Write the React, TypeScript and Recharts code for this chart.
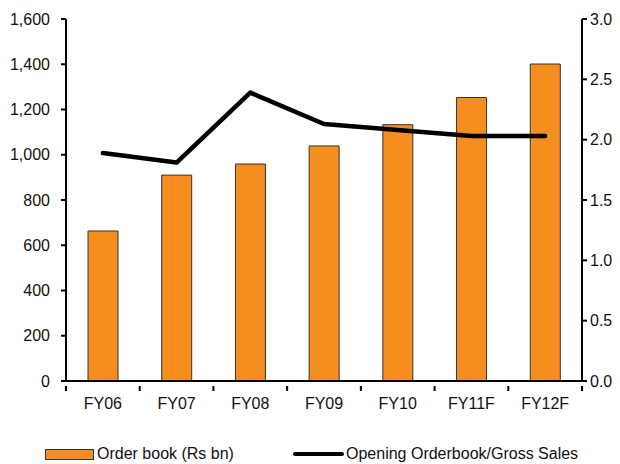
import React from "react"
import { ComposedChart, Bar, Line, XAxis, YAxis, Legend } from "recharts"

const years = ["FY06", "FY07", "FY08", "FY09", "FY10", "FY11F", "FY12F"]
const orderBook = [663, 910, 959, 1039, 1133, 1253, 1401]
const bookToSales = [1.89, 1.81, 2.39, 2.13, 2.08, 2.03, 2.03]
const leftTicks = [0, 200, 400, 600, 800, 1000, 1200, 1400, 1600]
const rightTicks = [0, 0.5, 1.0, 1.5, 2.0, 2.5, 3.0]

const font = "'Liberation Sans', Arial, sans-serif"
const orange = "#F68E1F"

const data = years.map((name, i) => ({
  name,
  orderBook: orderBook[i],
  ratio: bookToSales[i],
}))

// category label in the middle, tick marks on the band edges
function YearTick(props: any) {
  const { x, y, payload, index } = props
  const half = payload.offset ?? 0
  const last = index === years.length - 1
  return (
    <g>
      <line x1={x - half} x2={x - half} y1={y - 12} y2={y - 7} stroke="#000" strokeWidth={2} />
      {last && <line x1={x + half} x2={x + half} y1={y - 12} y2={y - 7} stroke="#000" strokeWidth={2} />}
      <text x={x} y={y} dy="0.71em" textAnchor="middle" fill="#111" fontSize={16} fontFamily={font}>
        {payload.value}
      </text>
    </g>
  )
}

function ChartLegend() {
  return (
    <div style={{ display: "flex", alignItems: "center", fontFamily: font, fontSize: 16, color: "#111" }}>
      <div style={{ display: "flex", alignItems: "center", width: 248 }}>
        <span style={{ display: "inline-block", width: 47, height: 9, background: orange, border: "1px solid #333" }} />
        <span style={{ marginLeft: 3 }}>Order book (Rs bn)</span>
      </div>
      <div style={{ display: "flex", alignItems: "center" }}>
        <span style={{ display: "inline-block", width: 51, height: 4, background: "#000", borderRadius: 2 }} />
        <span style={{ marginLeft: 2 }}>Opening Orderbook/Gross Sales</span>
      </div>
    </div>
  )
}

export default function App() {
  return (
    <div style={{ position: "absolute", left: 0, top: 0, width: 620, height: 464, background: "#fff" }}>
      <ComposedChart width={620} height={464} data={data} margin={{ top: 19, right: 0, bottom: 28, left: 0 }}>
        <XAxis
          dataKey="name"
          height={35}
          axisLine={{ stroke: "#000", strokeWidth: 2 }}
          tickLine={false}
          tickSize={5}
          tickMargin={12}
          tick={<YearTick />}
          interval={0}
        />
        <YAxis
          yAxisId="left"
          width={66}
          domain={[0, 1600]}
          ticks={leftTicks}
          tickFormatter={(v: number) => v.toLocaleString("en-US")}
          axisLine={{ stroke: "#000", strokeWidth: 2 }}
          tickLine={{ stroke: "#000", strokeWidth: 2 }}
          tickSize={5}
          tickMargin={11}
          tick={{ fill: "#111", fontSize: 16, fontFamily: font }}
        />
        <YAxis
          yAxisId="right"
          orientation="right"
          width={38}
          domain={[0, 3]}
          ticks={rightTicks}
          tickFormatter={(v: number) => v.toFixed(1)}
          axisLine={{ stroke: "#000", strokeWidth: 2 }}
          tickLine={{ stroke: "#000", strokeWidth: 2 }}
          tickSize={5}
          tickMargin={3}
          tick={{ fill: "#111", fontSize: 16, fontFamily: font, textAnchor: "start" }}
        />
        <Bar
          yAxisId="left"
          dataKey="orderBook"
          name="Order book (Rs bn)"
          fill={orange}
          stroke="#333"
          strokeWidth={1}
          barSize={30}
          isAnimationActive={false}
        />
        <Line
          yAxisId="right"
          type="linear"
          dataKey="ratio"
          name="Opening Orderbook/Gross Sales"
          stroke="#000"
          strokeWidth={4.5}
          strokeLinecap="round"
          strokeLinejoin="round"
          dot={false}
          activeDot={false}
          isAnimationActive={false}
        />
        <Legend
          content={<ChartLegend />}
          wrapperStyle={{ position: "absolute", left: 45, top: 445, width: 575, height: 20 }}
        />
      </ComposedChart>
    </div>
  )
}
